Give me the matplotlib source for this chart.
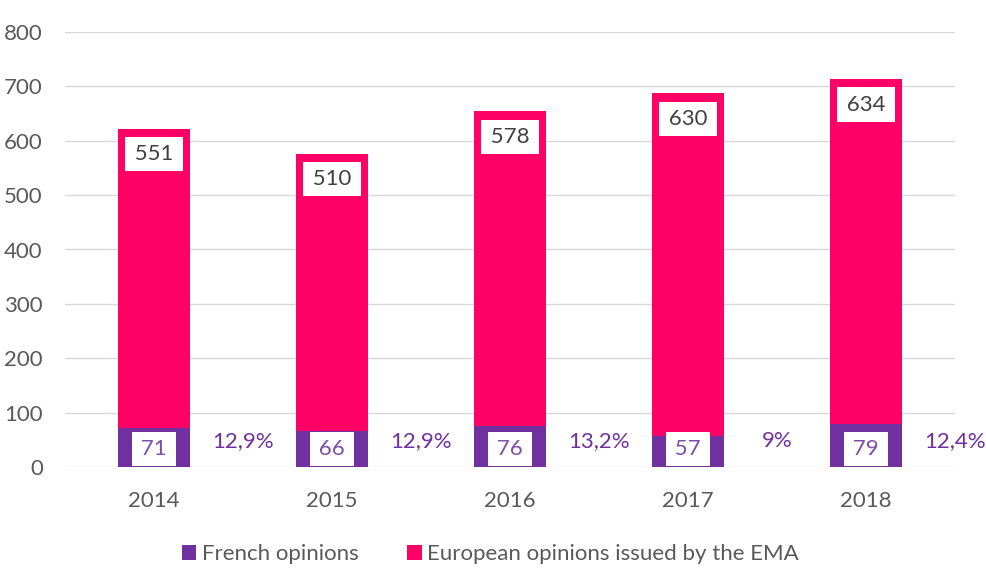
import numpy as np
import matplotlib.pyplot as plt

plt.rcParams['font.family'] = ['Lato', 'DejaVu Sans']

# data
years = ['2014', '2015', '2016', '2017', '2018']
french = [71, 66, 76, 57, 79]
european = [551, 510, 578, 630, 634]
shares = ['12,9%', '12,9%', '13,2%', '9%', '12,4%']

purple = '#7030A0'
pink = '#FF0066'
grey = '#595959'

fig = plt.figure(figsize=(9.86, 5.74), dpi=100)
ax = fig.add_axes([65 / 986, 107 / 574, 890 / 986, 435 / 574])

x = np.arange(len(years))
w = 0.40
ax.bar(x, french, w, color=purple, zorder=2, label='French opinions')
ax.bar(x, european, w, bottom=french, color=pink, zorder=2,
       label='European opinions issued by the EMA')

# value labels in white boxes
sp_ = '\u2009'
tops = np.array(french) + np.array(european)
for xi, f, e, t, s in zip(x, french, european, tops, shares):
    ax.annotate(sp_ + str(e) + sp_, (xi, t), xytext=(0, -11), textcoords='offset points',
                ha='center', va='top', fontsize=16, color='#404040', zorder=4,
                bbox=dict(boxstyle='square,pad=0.32', fc='white', ec='none'))
    ax.annotate(sp_ + str(f) + sp_, (xi, 0), xytext=(0, 13), textcoords='offset points',
                ha='center', va='center', fontsize=16, color='#7D4EA8', zorder=4,
                bbox=dict(boxstyle='square,pad=0.3', fc='white', ec='none'))
    ax.annotate(s, (xi + 0.5, 48), ha='center', va='center', fontsize=16,
                color=purple, annotation_clip=False, zorder=4)

ax.set_ylim(0, 800)
ax.set_xlim(-0.5, 4.5)
ax.set_yticks(range(0, 801, 100))
ax.set_xticks(x)
ax.set_xticklabels(years)
ax.grid(axis='y', color='#D9D9D9', linewidth=1, zorder=0)
ax.tick_params(axis='both', length=0, labelsize=16, colors=grey)
ax.tick_params(axis='x', pad=17)
ax.tick_params(axis='y', pad=16)
for sp in ax.spines.values():
    sp.set_visible(False)

leg = ax.legend(loc='center', bbox_to_anchor=(0.478, -0.2), ncol=2, frameon=False,
                fontsize=16, handlelength=0.64, handleheight=0.64, handletextpad=0.25,
                columnspacing=2.2)
for txt in leg.get_texts():
    txt.set_color(grey)

fig.savefig('out.png', dpi=100)
